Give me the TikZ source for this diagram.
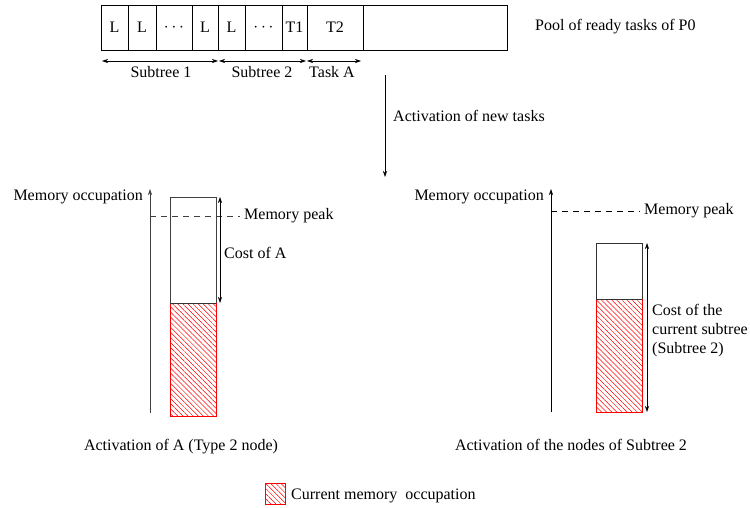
\documentclass[tikz,border=0pt]{standalone}
\usepackage{fontspec}
\setmainfont{Liberation Serif}
\usetikzlibrary{arrows.meta,patterns.meta}
\begin{document}
\begin{tikzpicture}[x=1pt,y=-1pt,
  font=\fontsize{16}{19}\selectfont,
  cell/.style={draw,line width=0.8pt,minimum height=45pt,inner sep=0pt,outer sep=0pt},
  lbl/.style={inner sep=0pt},
  arr/.style={-{Stealth[length=6pt,width=4pt]},line width=0.6pt},
  darr/.style={{Stealth[length=6pt,width=4pt]}-{Stealth[length=6pt,width=4pt]},line width=0.6pt},
  freebox/.style={draw=black!80,fill=white,line width=0.8pt},
  hatchbox/.style={draw=red,line width=0.8pt,pattern={Lines[angle=-45,distance=3.6pt,line width=0.5pt]},pattern color=red},
  peak/.style={dashed,dash pattern=on 6pt off 5pt,line width=0.6pt}]
\useasboundingbox (0,0) rectangle (750,508);

% pool of ready tasks
\node[cell,minimum width=27pt] (c1) at (114.5,27.5) {L};
\node[cell,minimum width=28pt] (c2) at (142,27.5) {L};
\node[cell,minimum width=36pt] (c3) at (174,27.5) {$\cdots$};
\node[cell,minimum width=26pt] (c4) at (205,27.5) {L};
\node[cell,minimum width=27pt] (c5) at (231.5,27.5) {L};
\node[cell,minimum width=37pt] (c6) at (263.5,27.5) {$\cdots$};
\node[cell,minimum width=25pt] (c7) at (294.5,27.5) {T1};
\node[cell,minimum width=56pt] (c8) at (335,27.5) {T2};
\node[cell,minimum width=144pt] (c9) at (435,27.5) {};
\node[lbl,anchor=west] (pool) at (535,27) {Pool of ready tasks of P0};

\coordinate (s1a) at (102,61); \coordinate (s1b) at (218,61);
\coordinate (s2a) at (219,61); \coordinate (s2b) at (306,61);
\coordinate (taa) at (307,61); \coordinate (tab) at (361,61);
\draw[darr] (s1a) -- (s1b);
\draw[darr] (s2a) -- (s2b);
\draw[darr] (taa) -- (tab);
\node[lbl] (st1) at (161,72) {Subtree 1};
\node[lbl] (st2) at (262,72) {Subtree 2};
\node[lbl] (tA) at (332,72) {Task A};

\coordinate (va1) at (385,75); \coordinate (va2) at (385,177);
\draw[arr] (va1) -- (va2);
\node[lbl,anchor=west] (act) at (393,116) {Activation of new tasks};

% left panel
\node[lbl,anchor=east] (memL) at (143,197) {Memory occupation};
\coordinate (axL1) at (150,413); \coordinate (axL2) at (150,189);
\draw[arr,black!75] (axL1) -- (axL2);
\draw[freebox,draw=black!75] (170,197) rectangle (216,303);
\draw[hatchbox] (170,303) rectangle (216,416);
\draw[black!80,line width=0.8pt] (170,303) -- (216,303);
\coordinate (pkL1) at (150,216); \coordinate (pkL2) at (240,216);
\draw[peak,black!75] (pkL1) -- (pkL2);
\node[lbl,anchor=west] (peakL) at (244,216) {Memory peak};
\coordinate (cA1) at (220,197); \coordinate (cA2) at (220,303);
\draw[darr] (cA1) -- (cA2);
\node[lbl,anchor=west] (costA) at (224,253) {Cost of A};
\node[lbl] (capL) at (181,447) {Activation of A (Type 2 node)};

% right panel
\node[lbl,anchor=east] (memR) at (544,197) {Memory occupation};
\coordinate (axR1) at (551,412); \coordinate (axR2) at (551,189);
\draw[arr] (axR1) -- (axR2);
\coordinate (pkR1) at (551,211); \coordinate (pkR2) at (640,211);
\draw[peak] (pkR1) -- (pkR2);
\node[lbl,anchor=west] (peakR) at (644,211) {Memory peak};
\draw[freebox] (596,243) rectangle (642,299);
\draw[hatchbox] (596,299) rectangle (642,412);
\draw[black!80,line width=0.8pt] (596,299) -- (642,299);
\coordinate (cS1) at (647,243); \coordinate (cS2) at (647,412);
\draw[darr] (cS1) -- (cS2);
\node[lbl,anchor=north west,align=left] (costS) at (652,304) {Cost of the\\current subtree\\(Subtree 2)};
\node[lbl] (capR) at (571,445) {Activation of the nodes of Subtree 2};

% legend
\draw[hatchbox] (265,483) rectangle (285,504);
\node[lbl,anchor=west] (leg) at (291,496) {Current memory~ occupation};
\end{tikzpicture}
\end{document}
